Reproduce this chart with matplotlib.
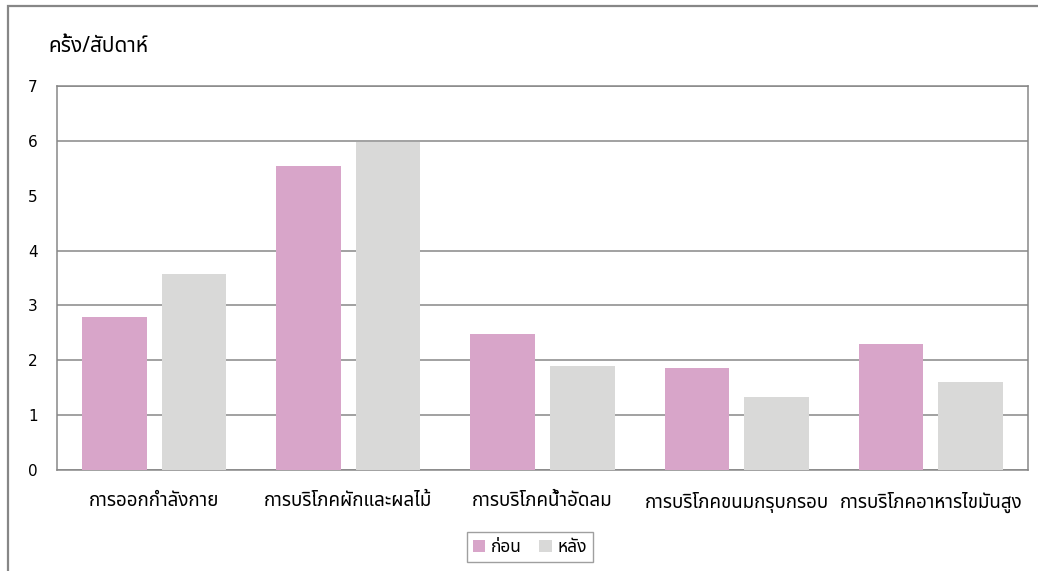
import matplotlib
matplotlib.use("Agg")
import matplotlib.pyplot as plt
from matplotlib.patches import Rectangle
import numpy as np

plt.rcParams['font.family'] = ['Noto Sans Thai', 'DejaVu Sans']

categories = ["การออกกำลังกาย", "การบริโภคผักและผลไม้", "การบริโภคน้ำอัดลม",
              "การบริโภคขนมกรุบกรอบ", "การบริโภคอาหารไขมันสูง"]
before = [2.78, 5.55, 2.48, 1.86, 2.30]
after = [3.58, 5.98, 1.90, 1.33, 1.61]
series_names = ["ก่อน", "หลัง"]
yticks = [0, 1, 2, 3, 4, 5, 6, 7]

pink = "#d8a5c9"
grey = "#d9d9d8"
line_col = "#878787"

fig = plt.figure(figsize=(10.38, 5.71), dpi=100)
ax = fig.add_axes([57 / 1038, 1 - 470 / 571, 971 / 1038, 384 / 571])

x = np.arange(len(categories))
w = 0.333
ax.bar(x - 0.205, before, w, color=pink, label=series_names[0], zorder=3)
ax.bar(x + 0.205, after, w, color=grey, label=series_names[1], zorder=3)

ax.set_xlim(-0.5, len(categories) - 0.5)
ax.set_ylim(0, 7)
ax.set_yticks(yticks)
ax.set_yticklabels([str(v) for v in yticks], fontsize=11, family="DejaVu Sans")
ax.set_xticks(x)
ax.set_xticklabels(categories, fontsize=13.5)
ax.tick_params(axis="both", length=0, colors="black")
ax.tick_params(axis="y", pad=14)
ax.tick_params(axis="x", pad=16)

ax.grid(axis="y", color=line_col, linewidth=1.1, zorder=0)
# the line at 5 is not drawn in this chart
ax.get_ygridlines()[5].set_visible(False)
for s in ax.spines.values():
    s.set_color(line_col)
    s.set_linewidth(1.1)

fig.text(48 / 1038, 1 - 47 / 571, "ครั้ง/สัปดาห์", fontsize=15, va="center", ha="left")

leg = fig.legend(loc="center", bbox_to_anchor=(530 / 1038, 1 - 547 / 571),
                 ncol=2, fontsize=12.5, frameon=True, fancybox=False,
                 handlelength=0.7, handleheight=0.7, handletextpad=0.35,
                 columnspacing=1.0, borderpad=0.35, borderaxespad=0)
leg.get_frame().set_edgecolor(line_col)
leg.get_frame().set_linewidth(1.0)

# outer chart border
fig.patches.append(Rectangle((8 / 1038, -0.1), 1.2, 1 - 6 / 571 + 0.1,
                             transform=fig.transFigure, fill=False,
                             edgecolor=line_col, linewidth=1.6))

fig.savefig("out.png", dpi=100)
